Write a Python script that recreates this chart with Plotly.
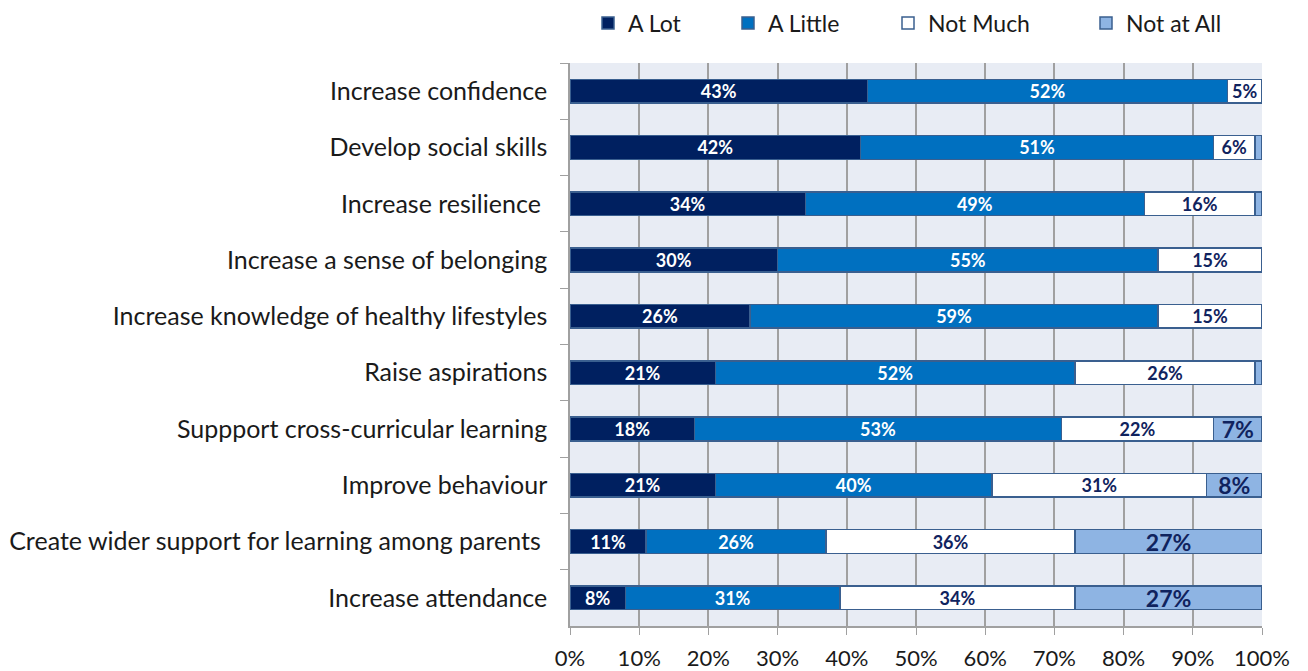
import plotly.graph_objects as go

categories = [
    "Increase confidence",
    "Develop social skills",
    "Increase resilience ",
    "Increase a sense of belonging",
    "Increase knowledge of healthy lifestyles",
    "Raise aspirations",
    "Suppport cross-curricular learning",
    "Improve behaviour",
    "Create wider support for learning among parents ",
    "Increase attendance",
]

a_lot = [43, 42, 34, 30, 26, 21, 18, 21, 11, 8]
a_little = [52, 51, 49, 55, 59, 52, 53, 40, 26, 31]
not_much = [5, 6, 16, 15, 15, 26, 22, 31, 36, 34]
not_at_all = [0, 1, 1, 0, 0, 1, 7, 8, 27, 27]

x_ticks = [0, 10, 20, 30, 40, 50, 60, 70, 80, 90, 100]

FONT = "Lato"
NAVY = "#10235E"
BORDER = "#3A5F8F"
GRID = "#A0A0A0"

# page body has an 8px margin, so the figure is 8px smaller than the window
W, H = 1300, 663

# name, values, fill, label colour, label size, legend x (px)
series = [
    ("A Lot", a_lot, "#002060", "white", 18, 580),
    ("A Little", a_little, "#0070C0", "white", 18, 720),
    ("Not Much", not_much, "#FFFFFF", NAVY, 18, 880),
    ("Not at All", not_at_all, "#8EB4E3", NAVY, 23, 1078),
]

fig = go.Figure()
legends = {}
for i, (name, vals, color, tcolor, tsize, lx) in enumerate(series):
    key = "legend" if i == 0 else f"legend{i + 1}"
    fig.add_trace(go.Bar(
        name=name,
        y=categories,
        x=vals,
        orientation="h",
        legend=key,
        marker=dict(color=color, line=dict(color=BORDER, width=1.5)),
        text=[f"{v}%" if v >= 5 else "" for v in vals],
        textposition="inside",
        insidetextanchor="middle",
        textangle=0,
        constraintext="none",
        textfont=dict(family=FONT, size=tsize, color=tcolor, weight="bold"),
        hovertemplate="%{y}<br>" + name + ": %{x}%<extra></extra>",
    ))
    legends[key] = dict(
        orientation="h",
        xref="container", yref="paper",
        x=lx / W, y=1.071, xanchor="left", yanchor="middle",
        font=dict(family=FONT, size=23, color="#1a1a1a"),
        bgcolor="rgba(0,0,0,0)",
    )

fig.update_layout(
    barmode="stack",
    bargap=0.58,
    width=W,
    height=H,
    margin=dict(l=562, r=46, t=55, b=45, autoexpand=False),
    paper_bgcolor="white",
    plot_bgcolor="#E8ECF4",
    font=dict(family=FONT, size=25, color="#1a1a1a"),
    showlegend=True,
    **legends,
)

fig.update_xaxes(
    range=[0, 100],
    tickvals=x_ticks,
    ticktext=[f"{t}%" for t in x_ticks],
    showgrid=True,
    gridcolor=GRID,
    gridwidth=1.5,
    ticks="outside",
    ticklen=7,
    tickcolor=GRID,
    showline=True,
    linecolor=GRID,
    linewidth=1.5,
    zeroline=False,
    automargin=False,
    tickfont=dict(family=FONT, size=22, color="#1a1a1a"),
    ticklabelstandoff=5,
)
fig.update_yaxes(
    autorange="reversed",
    ticks="outside",
    tickson="boundaries",
    ticklen=8,
    tickcolor=GRID,
    showline=True,
    linecolor=GRID,
    linewidth=1.5,
    showgrid=False,
    automargin=False,
    tickfont=dict(family=FONT, size=25, color="#1a1a1a"),
    ticklabelstandoff=16,
)

fig.write_html("out.html")
